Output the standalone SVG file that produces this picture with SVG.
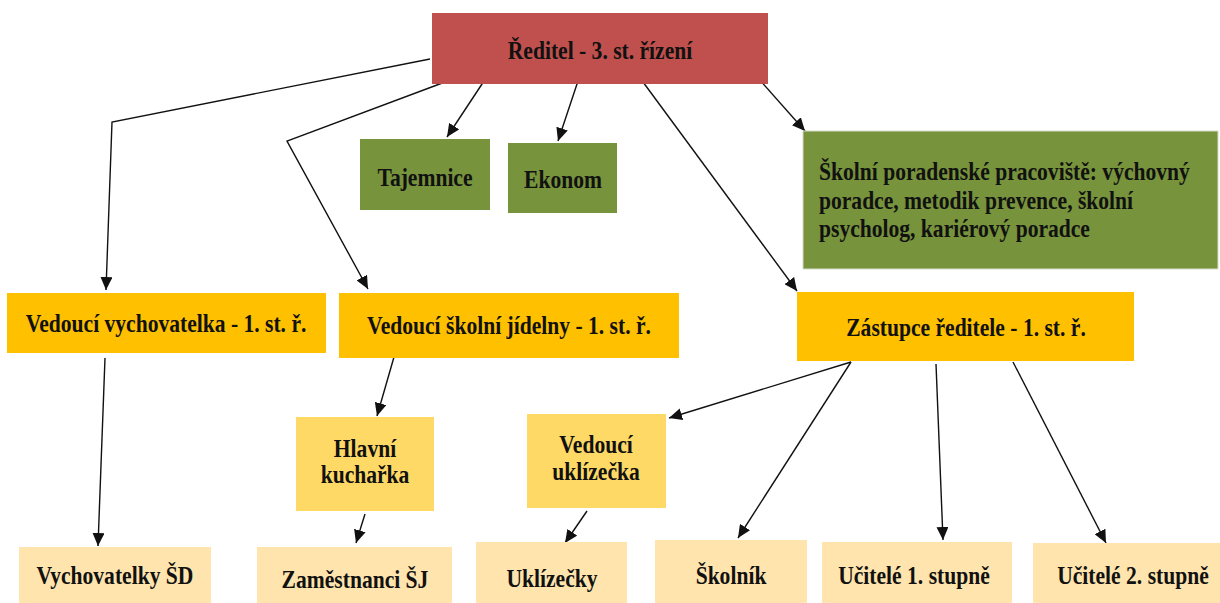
<svg xmlns="http://www.w3.org/2000/svg" width="1220" height="603" viewBox="0 0 1220 603">
<style>
.t{font-family:'Liberation Serif','Times New Roman',Times,serif;font-weight:700;font-size:26px;fill:#111;}
.red{fill:#C0504D;}
.grn{fill:#77933C;}
.org{fill:#FFC000;}
.yel{fill:#FFD966;}
.lt{fill:#FFE5AD;}
.c{fill:none;stroke:#111;stroke-width:1.4;marker-end:url(#ah);}
</style>
<defs>
<marker id="ah" markerUnits="userSpaceOnUse" markerWidth="14" markerHeight="12" viewBox="0 0 14 12" refX="13" refY="6" orient="auto">
<path d="M0,0 L13,6 L0,12 z" fill="#111"/>
</marker>
</defs>
<rect width="1220" height="603" fill="#fff"/>
<g id="connectors">
<polyline class="c" points="430,59 112,122 106,290"/>
<polyline class="c" points="445,82 287,141 368,289"/>
<line class="c" x1="484" y1="81" x2="447" y2="137"/>
<line class="c" x1="578" y1="81" x2="558" y2="141"/>
<line class="c" x1="643" y1="82" x2="797" y2="291"/>
<line class="c" x1="758" y1="78" x2="805" y2="131"/>
<line class="c" x1="105" y1="358" x2="98" y2="546"/>
<line class="c" x1="394" y1="357" x2="377" y2="416"/>
<line class="c" x1="365" y1="514" x2="356" y2="543"/>
<line class="c" x1="587" y1="511" x2="565" y2="543"/>
<line class="c" x1="851" y1="362" x2="669" y2="418"/>
<line class="c" x1="851" y1="362" x2="738" y2="538"/>
<line class="c" x1="936" y1="364" x2="943" y2="540"/>
<line class="c" x1="1013" y1="362" x2="1106" y2="543"/>
</g>
<g font-family="Liberation Serif, Times New Roman, serif">
<g id="reditel">
<rect class="red" x="432" y="13" width="336" height="71"/>
<text class="t" text-anchor="middle" transform="translate(600 59) scale(0.83 1)">Ředitel - 3. st. řízení</text>
</g>
<g id="tajemnice">
<rect class="grn" x="360" y="139" width="130" height="71"/>
<text class="t" text-anchor="middle" transform="translate(425 186) scale(0.83 1)">Tajemnice</text>
</g>
<g id="ekonom">
<rect class="grn" x="508" y="143" width="109" height="70"/>
<text class="t" text-anchor="middle" transform="translate(563 188) scale(0.83 1)">Ekonom</text>
</g>
<g id="spp">
<rect class="grn" x="803" y="131" width="415" height="138" stroke="#d8dccb" stroke-width="1"/>
<text class="t" transform="translate(819 180) scale(0.83 1)"><tspan x="0" y="0">Školní poradenské pracoviště: výchovný</tspan><tspan x="0" y="29">poradce, metodik prevence, školní</tspan><tspan x="0" y="57">psycholog, kariérový poradce</tspan></text>
</g>
<g id="ved-vychovatelka">
<rect class="org" x="7" y="293" width="319" height="60"/>
<text class="t" text-anchor="middle" transform="translate(166 332) scale(0.83 1)">Vedoucí vychovatelka - 1. st. ř.</text>
</g>
<g id="ved-jidelny">
<rect class="org" x="339" y="293" width="340" height="65"/>
<text class="t" text-anchor="middle" transform="translate(509 334) scale(0.83 1)">Vedoucí školní jídelny - 1. st. ř.</text>
</g>
<g id="zastupce">
<rect class="org" x="797" y="292" width="337" height="69"/>
<text class="t" text-anchor="middle" transform="translate(966 336) scale(0.83 1)">Zástupce ředitele - 1. st. ř.</text>
</g>
<g id="kucharka">
<rect class="yel" x="296" y="417" width="138" height="94"/>
<text class="t" text-anchor="middle" transform="translate(365 457) scale(0.83 1)"><tspan x="0" y="0">Hlavní</tspan><tspan x="0" y="26">kuchařka</tspan></text>
</g>
<g id="ved-uklizecka">
<rect class="yel" x="527" y="414" width="139" height="94"/>
<text class="t" text-anchor="middle" transform="translate(596 453) scale(0.83 1)"><tspan x="0" y="0">Vedoucí</tspan><tspan x="0" y="27">uklízečka</tspan></text>
</g>
<g id="vychovatelky">
<rect class="lt" x="19" y="547" width="192" height="62"/>
<text class="t" text-anchor="middle" transform="translate(115 584) scale(0.83 1)">Vychovatelky ŠD</text>
</g>
<g id="zamestnanci">
<rect class="lt" x="257" y="547" width="195" height="62"/>
<text class="t" text-anchor="middle" transform="translate(355 588) scale(0.83 1)">Zaměstnanci ŠJ</text>
</g>
<g id="uklizecky">
<rect class="lt" x="476" y="542" width="151" height="67"/>
<text class="t" text-anchor="middle" transform="translate(552 587) scale(0.83 1)">Uklízečky</text>
</g>
<g id="skolnik">
<rect class="lt" x="655" y="540" width="152" height="69"/>
<text class="t" text-anchor="middle" transform="translate(731 584) scale(0.83 1)">Školník</text>
</g>
<g id="ucitele1">
<rect class="lt" x="822" y="542" width="190" height="67"/>
<text class="t" text-anchor="middle" transform="translate(914 584) scale(0.83 1)">Učitelé 1. stupně</text>
</g>
<g id="ucitele2">
<rect class="lt" x="1033" y="543" width="199" height="66"/>
<text class="t" text-anchor="middle" transform="translate(1133 584) scale(0.83 1)">Učitelé 2. stupně</text>
</g>
</g>
</svg>
